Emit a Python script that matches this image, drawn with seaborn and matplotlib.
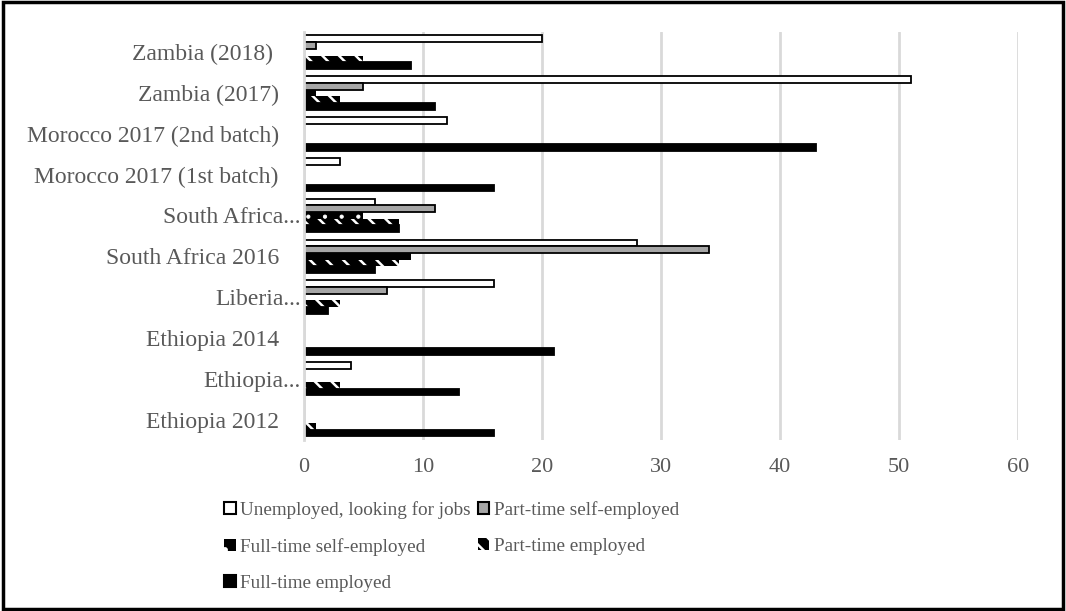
import pandas as pd
import numpy as np
import matplotlib.pyplot as plt
import matplotlib.transforms as mtransforms
import seaborn as sns
from matplotlib.patches import Rectangle

# Data
countries = ['Zambia (2018) ', 'Zambia (2017)', 'Morocco 2017 (2nd batch)',
             'Morocco 2017 (1st batch)', 'South Africa...', 'South Africa 2016',
             'Liberia...', 'Ethiopia 2014', 'Ethiopia...', 'Ethiopia 2012']
series = ['Unemployed, looking for jobs', 'Part-time self-employed',
          'Full-time self-employed', 'Part-time employed', 'Full-time employed']
unemployed = [20, 51, 12, 3, 6, 28, 16, 0, 4, 0]
part_self = [1, 5, 0, 0, 11, 34, 7, 0, 0, 0]
full_self = [0, 1, 0, 0, 5, 9, 0, 0, 0, 0]
part_emp = [5, 3, 0, 0, 8, 8, 3, 0, 3, 1]
full_emp = [9, 11, 43, 16, 8, 6, 2, 21, 13, 16]

values = [unemployed, part_self, full_self, part_emp, full_emp]
rows = []
for s, vals in zip(series, values):
    for c, v in zip(countries, vals):
        rows.append({'country': c, 'status': s, 'value': v})
df = pd.DataFrame(rows)

sns.set_theme(style='white')
plt.rcParams['font.family'] = ['Liberation Serif', 'DejaVu Serif']
plt.rcParams['hatch.linewidth'] = 1.8

fill = {series[0]: 'white', series[1]: '#a6a6a6', series[2]: 'black',
        series[3]: 'black', series[4]: 'black'}
hatches = {series[2]: '.', series[3]: '\\\\'}
hatch_lw = {series[2]: 0.6, series[3]: 1.8}

fig = plt.figure(figsize=(10.66, 6.11), dpi=100)
ax = fig.add_axes([0.285, 0.28, 0.67, 0.668])

sns.barplot(data=df, y='country', x='value', hue='status', order=countries,
            hue_order=series, palette=fill, orient='h', width=0.82,
            edgecolor='black', linewidth=1.3, legend=False, ax=ax)


def style_hatch(p, s):
    p.set_edgecolor('white')
    p.set_linewidth(0)
    p.set_hatch(hatches[s])
    if hasattr(p, 'set_hatch_linewidth'):
        p.set_hatch_linewidth(hatch_lw[s])


# hatched series: black fill, white pattern
for cont, s in zip(ax.containers, series):
    for p in cont:
        if s in hatches:
            style_hatch(p, s)

ax.set_xlim(0, 60)
ax.set_xticks(np.arange(0, 61, 10))
ax.grid(axis='x', color='#d9d9d9', linewidth=2)
ax.set_axisbelow(True)
for side in ['top', 'right', 'bottom']:
    ax.spines[side].set_visible(False)
ax.spines['left'].set_color('#d9d9d9')
ax.spines['left'].set_linewidth(2)
ax.set_xlabel('')
ax.set_ylabel('')
ax.tick_params(axis='both', length=0, colors='#595959')
ax.tick_params(axis='y', pad=18, labelsize=17)
ax.tick_params(axis='x', pad=13, labelsize=16)

# truncated labels run a little into the plot area
shift = mtransforms.ScaledTranslation(0.22, 0, fig.dpi_scale_trans)
for lab in ax.get_yticklabels():
    if lab.get_text().endswith('...'):
        lab.set_transform(lab.get_transform() + shift)

# legend
handles = []
for s in series:
    if s in hatches:
        h = Rectangle((0, 0), 1, 1, facecolor='black')
        style_hatch(h, s)
    else:
        h = Rectangle((0, 0), 1, 1, facecolor=fill[s], edgecolor='black',
                      linewidth=1.5)
    handles.append(h)
order = [0, 2, 4, 1, 3]
leg = fig.legend([handles[i] for i in order], [series[i] for i in order],
                 loc='upper left', bbox_to_anchor=(0.203, 0.193), ncol=2,
                 frameon=False, fontsize=13.8, handlelength=0.6,
                 handleheight=0.6, handletextpad=0.25, columnspacing=0.35,
                 labelspacing=1.0, borderaxespad=0)
for t in leg.get_texts():
    t.set_color('#595959')

# outer frame
fig.patches.append(Rectangle((0.003, 0.003), 0.994, 0.994, transform=fig.transFigure,
                             fill=False, edgecolor='black', linewidth=2.5))

fig.savefig('out.png', dpi=100)
